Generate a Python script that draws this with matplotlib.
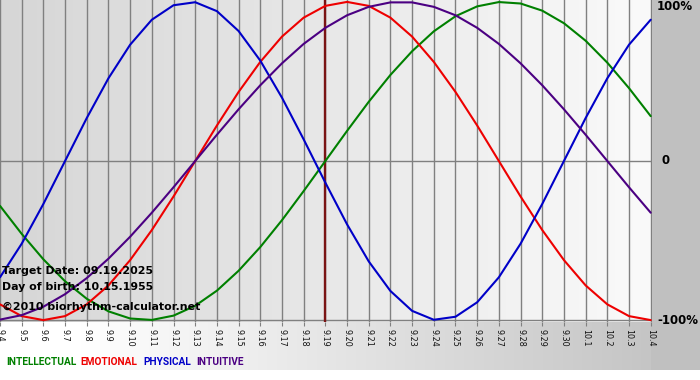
import numpy as np
import matplotlib
matplotlib.use("Agg")
import matplotlib.pyplot as plt

# ---- data ----
dates = ["9.4", "9.5", "9.6", "9.7", "9.8", "9.9", "9.10", "9.11", "9.12", "9.13",
         "9.14", "9.15", "9.16", "9.17", "9.18", "9.19", "9.20", "9.21", "9.22", "9.23",
         "9.24", "9.25", "9.26", "9.27", "9.28", "9.29", "9.30", "10.1", "10.2", "10.3", "10.4"]

physical = [-0.731, -0.520, -0.270, 0.0, 0.270, 0.520, 0.731, 0.888, 0.979, 0.998,
            0.942, 0.817, 0.631, 0.398, 0.136, -0.136, -0.398, -0.631, -0.817, -0.942,
            -0.998, -0.979, -0.888, -0.731, -0.520, -0.270, 0.0, 0.270, 0.520, 0.731, 0.888]

emotional = [-0.901, -0.975, -1.000, -0.975, -0.901, -0.782, -0.623, -0.434, -0.223, 0.0,
             0.223, 0.434, 0.623, 0.782, 0.901, 0.975, 1.000, 0.975, 0.901, 0.782,
             0.623, 0.434, 0.223, 0.0, -0.223, -0.434, -0.623, -0.782, -0.901, -0.975, -1.000]

intellectual = [-0.282, -0.458, -0.618, -0.756, -0.866, -0.945, -0.990, -0.999, -0.972, -0.910,
                -0.815, -0.690, -0.541, -0.372, -0.189, 0.0, 0.189, 0.372, 0.541, 0.690,
                0.815, 0.910, 0.972, 0.999, 0.990, 0.945, 0.866, 0.756, 0.618, 0.458, 0.282]

intuitive = [-0.997, -0.969, -0.916, -0.837, -0.736, -0.614, -0.476, -0.325, -0.165, 0.0,
             0.165, 0.325, 0.476, 0.614, 0.736, 0.837, 0.916, 0.969, 0.997, 0.997,
             0.969, 0.916, 0.837, 0.736, 0.614, 0.476, 0.325, 0.165, 0.0, -0.165, -0.325]

target_label = "9.19"
y_labels = ["100%", "0", "-100%"]
y_values = [1.0, 0.0, -1.0]
legend_names = ["INTELLECTUAL", "EMOTIONAL", "PHYSICAL", "INTUITIVE"]
info_lines = ["Target Date: 09.19.2025", "Day of birth: 10.15.1955", "\u00a92010 biorhythm-calculator.net"]

# ---- styles ----
C_GREEN = "#008000"
C_RED = "#ee0000"
C_BLUE = "#0000c8"
C_PURPLE = "#4b0082"
series = [(intellectual, C_GREEN), (emotional, C_RED), (physical, C_BLUE), (intuitive, C_PURPLE)]

W, H = 700, 380
fig = plt.figure(figsize=(W / 100, H / 100), dpi=100)

# figure background (bottom band gradient, right gray margin)
bg = fig.add_axes([0, 0, 1, 1], zorder=-10)
img = np.ones((H, W, 3))
xs = np.arange(W)
grad = 1.0 - (1.0 - 192 / 255) * np.clip((xs - 80) / 620.0, 0, 1)
img[:370, :, :] = grad[None, :, None]
img[:370, 651:, :] = 192 / 255
bg.imshow(img, extent=[0, W, H, 0], aspect="auto", interpolation="bilinear")
bg.set_xlim(0, W)
bg.set_ylim(H, 0)
bg.axis("off")

# plot area
pl, pr, pt, pb = 0, 652, 0, 322
ax = fig.add_axes([pl / W, 1 - pb / H, (pr - pl) / W, (pb - pt) / H])
n = len(dates)
x = np.arange(n)
xmax = (n - 1) * (pr - pl) / 650.7
ax.set_xlim(0, xmax)
ax.set_ylim(-1.012, 1.012)

pg = np.linspace(214 / 255, 250 / 255, 256)
ax.imshow(np.repeat(pg[None, :, None], 3, axis=2), extent=[0, xmax, -1.012, 1.012],
          aspect="auto", zorder=0, interpolation="bilinear")

for xi in x:
    ax.axvline(xi, color="#808080", lw=1.0, zorder=1)
ax.axhline(0, color="#808080", lw=1.0, zorder=1)
ax.axhline(-1.0, color="#808080", lw=1.0, zorder=1)
ax.axvline(dates.index(target_label), color="#7a1414", lw=1.7, zorder=2)

for vals, col in series:
    ax.plot(x, vals, color=col, lw=1.5, zorder=3, solid_capstyle="round")

for s in ax.spines.values():
    s.set_visible(False)
ax.set_xticks(x)
ax.set_xticklabels(dates, rotation=270, fontsize=5.8, va="top", ha="center", color="#111111")
ax.tick_params(axis="x", length=3, width=0.8, color="#808080", pad=2)
ax.set_yticks([])

# right-hand labels
for lab, v in zip(y_labels, y_values):
    yp = ax.transData.transform((0, v))[1]
    fig.text(657 / W if lab != "0" else 661 / W, yp / H + (-0.012 if v == 1.0 else 0.0), lab,
             fontsize=8.5, fontweight="bold", va="center", ha="left", color="black")

# info text
for txt, yy in zip(info_lines, [271.5, 286.5, 306.5]):
    fig.text(2 / W, 1 - yy / H, txt, fontsize=7.9, fontweight="bold", va="center",
             ha="left", color="black", zorder=5)

# legend
fam = ["Roboto", "DejaVu Sans"]
for name, (vals, col), xx in zip(legend_names, series, [6, 80, 143, 196]):
    fig.text(xx / W, 1 - 362 / H, name, fontsize=7.3, fontweight="bold", family=fam,
             color=col, va="center", ha="left")

fig.savefig("out.png", dpi=100)
